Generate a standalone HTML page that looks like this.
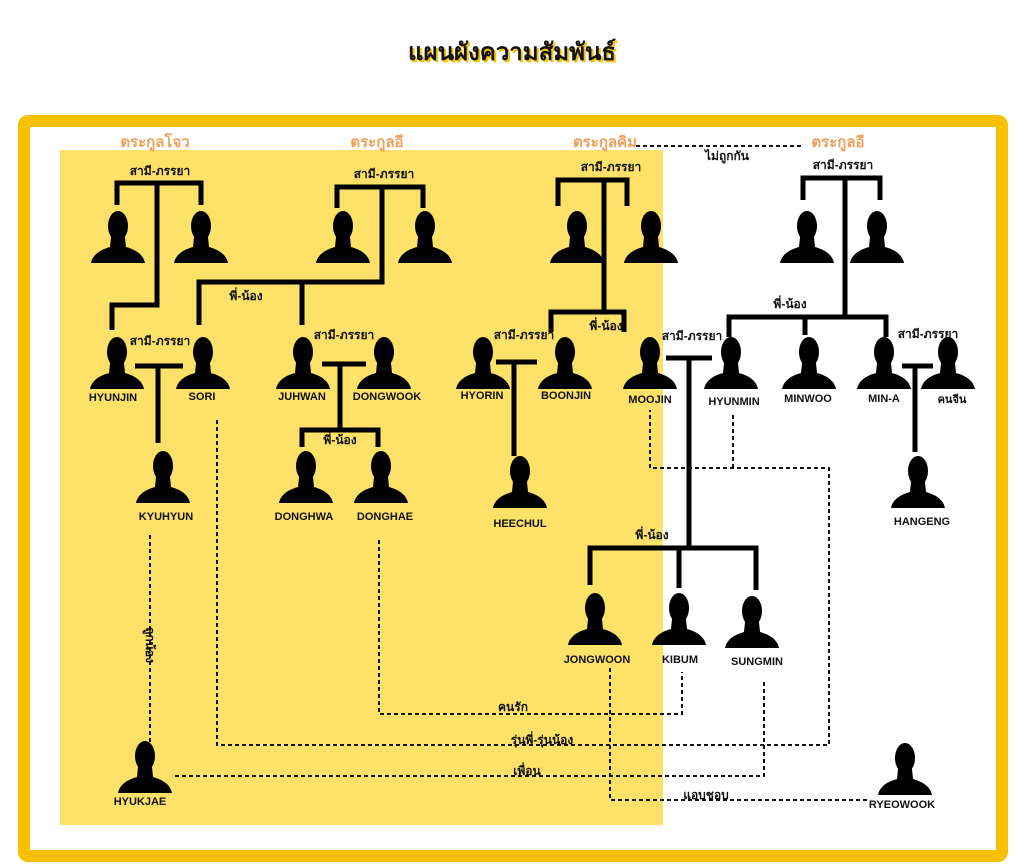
<!DOCTYPE html>
<html><head><meta charset="utf-8"><style>
body{margin:0;background:#fff;}
svg{display:block;font-family:"Liberation Sans","Noto Sans CJK SC",sans-serif;}
.n{font-size:11px;font-weight:bold;text-anchor:middle;fill:#111}
.r{font-size:12px;font-weight:bold;text-anchor:middle;fill:#111}
.c{font-size:15px;font-weight:bold;text-anchor:middle;fill:#f0a05a}
.t{stroke:#000;stroke-width:5;fill:none}
.d{stroke:#111;stroke-width:2;fill:none;stroke-dasharray:4 3}
</style></head><body>
<svg width="1024" height="868" viewBox="0 0 1024 868">
<defs>
<g id="p"><ellipse cx="0" cy="-37" rx="10" ry="15"/><path d="M-27,0 C-25,-10 -15,-14 -8,-16 L-7,-26 L7,-26 L8,-16 C15,-14 25,-10 27,0 Z"/></g>
</defs>
<rect x="0" y="0" width="1024" height="868" fill="#fff"/>
<rect x="24" y="121" width="978" height="735" rx="4" fill="#fff" stroke="#f9c000" stroke-width="12"/>
<rect x="60" y="150" width="603" height="675" fill="#fde168"/>
<text x="512" y="60" font-size="24" font-weight="bold" text-anchor="middle" fill="#f5c400" transform="translate(2,2)">แผนผังความสัมพันธ์</text>
<text x="512" y="60" font-size="24" font-weight="bold" text-anchor="middle" fill="#111">แผนผังความสัมพันธ์</text>
<text class="c" x="155" y="147">ตระกูลโจว</text>
<text class="c" x="377" y="147">ตระกูลอี</text>
<text class="c" x="605" y="147">ตระกูลคิม</text>
<text class="c" x="838" y="147">ตระกูลอี</text>
<g fill="#000">
<use href="#p" x="118" y="263"/><use href="#p" x="201" y="263"/><use href="#p" x="343" y="263"/><use href="#p" x="425" y="263"/>
<use href="#p" x="577" y="263"/><use href="#p" x="651" y="263"/><use href="#p" x="807" y="263"/><use href="#p" x="877" y="263"/>
<use href="#p" x="117" y="389"/><use href="#p" x="203" y="389"/><use href="#p" x="303" y="389"/><use href="#p" x="384" y="389"/>
<use href="#p" x="483" y="389"/><use href="#p" x="565" y="389"/><use href="#p" x="650" y="389"/><use href="#p" x="731" y="389"/>
<use href="#p" x="809" y="389"/><use href="#p" x="884" y="389"/><use href="#p" x="948" y="389"/>
<use href="#p" x="163" y="503"/><use href="#p" x="306" y="503"/><use href="#p" x="381" y="503"/><use href="#p" x="520" y="508"/><use href="#p" x="918" y="508"/>
<use href="#p" x="595" y="645"/><use href="#p" x="679" y="645"/><use href="#p" x="752" y="648"/>
<use href="#p" x="145" y="793"/><use href="#p" x="905" y="795"/>
</g>
<text class="n" x="113" y="401">HYUNJIN</text><text class="n" x="202" y="400">SORI</text><text class="n" x="302" y="400">JUHWAN</text><text class="n" x="387" y="400">DONGWOOK</text>
<text class="n" x="482" y="399">HYORIN</text><text class="n" x="566" y="399">BOONJIN</text><text class="n" x="650" y="403">MOOJIN</text><text class="n" x="734" y="405">HYUNMIN</text>
<text class="n" x="808" y="402">MINWOO</text><text class="n" x="884" y="402">MIN-A</text><text class="n" x="952" y="403">คนจีน</text>
<text class="n" x="166" y="520">KYUHYUN</text><text class="n" x="304" y="520">DONGHWA</text><text class="n" x="385" y="520">DONGHAE</text><text class="n" x="520" y="527">HEECHUL</text><text class="n" x="922" y="525">HANGENG</text>
<text class="n" x="597" y="663">JONGWOON</text><text class="n" x="680" y="663">KIBUM</text><text class="n" x="757" y="665">SUNGMIN</text>
<text class="n" x="140" y="805">HYUKJAE</text><text class="n" x="902" y="808">RYEOWOOK</text>
<g class="t">
<path d="M117,205 V183 H201 V205 M157,183 V305 H112 V330"/>
<path d="M337,208 V187 H423 V208 M382,187 V282 H199 V325 M302,282 V325"/>
<path d="M135,366 H183 M158,366 V443"/>
<path d="M322,364 H366 M340,364 V430 M302,447 V430 H378 V447"/>
<path d="M558,206 V180 H627 V206 M604,180 V312 M551,332 V312 H624 V332"/>
<path d="M496,362 H537 M514,362 V456"/>
<path d="M666,358 H712 M689,358 V548"/>
<path d="M803,200 V178 H880 V200 M845,178 V317 M729,337 V317 H886 V337 M805,317 V335"/>
<path d="M902,366 H933 M915,366 V452"/>
<path d="M590,585 V548 H756 V590 M679,548 V588"/>
</g>
<g class="d">
<path d="M636,146 H802"/>
<path d="M150,535 V745"/>
<path d="M217,420 V745 H829 V468 H650 V410"/>
<path d="M733,415 V468"/>
<path d="M379,540 V714 H682 V672"/>
<path d="M175,776 H764 V681"/>
<path d="M610,668 V800 H868"/>
</g>
<text class="r" x="727" y="160">ไม่ถูกกัน</text>
<text class="r" x="160" y="175">สามี-ภรรยา</text><text class="r" x="384" y="178">สามี-ภรรยา</text><text class="r" x="611" y="171">สามี-ภรรยา</text><text class="r" x="843" y="169">สามี-ภรรยา</text>
<text class="r" x="160" y="345">สามี-ภรรยา</text><text class="r" x="344" y="339">สามี-ภรรยา</text><text class="r" x="524" y="339">สามี-ภรรยา</text><text class="r" x="692" y="340">สามี-ภรรยา</text><text class="r" x="928" y="338">สามี-ภรรยา</text>
<text class="r" x="246" y="300">พี่-น้อง</text><text class="r" x="606" y="330">พี่-น้อง</text><text class="r" x="790" y="308">พี่-น้อง</text><text class="r" x="340" y="444">พี่-น้อง</text><text class="r" x="652" y="539">พี่-น้อง</text>
<text class="r" x="513" y="711">คนรัก</text><text class="r" x="542" y="744">รุ่นพี่-รุ่นน้อง</text><text class="r" x="527" y="775">เพื่อน</text><text class="r" x="706" y="799">แอบชอบ</text>
<text class="r" transform="translate(146,645) rotate(90)">ลูกน้อง</text>
</svg>
</body></html>
